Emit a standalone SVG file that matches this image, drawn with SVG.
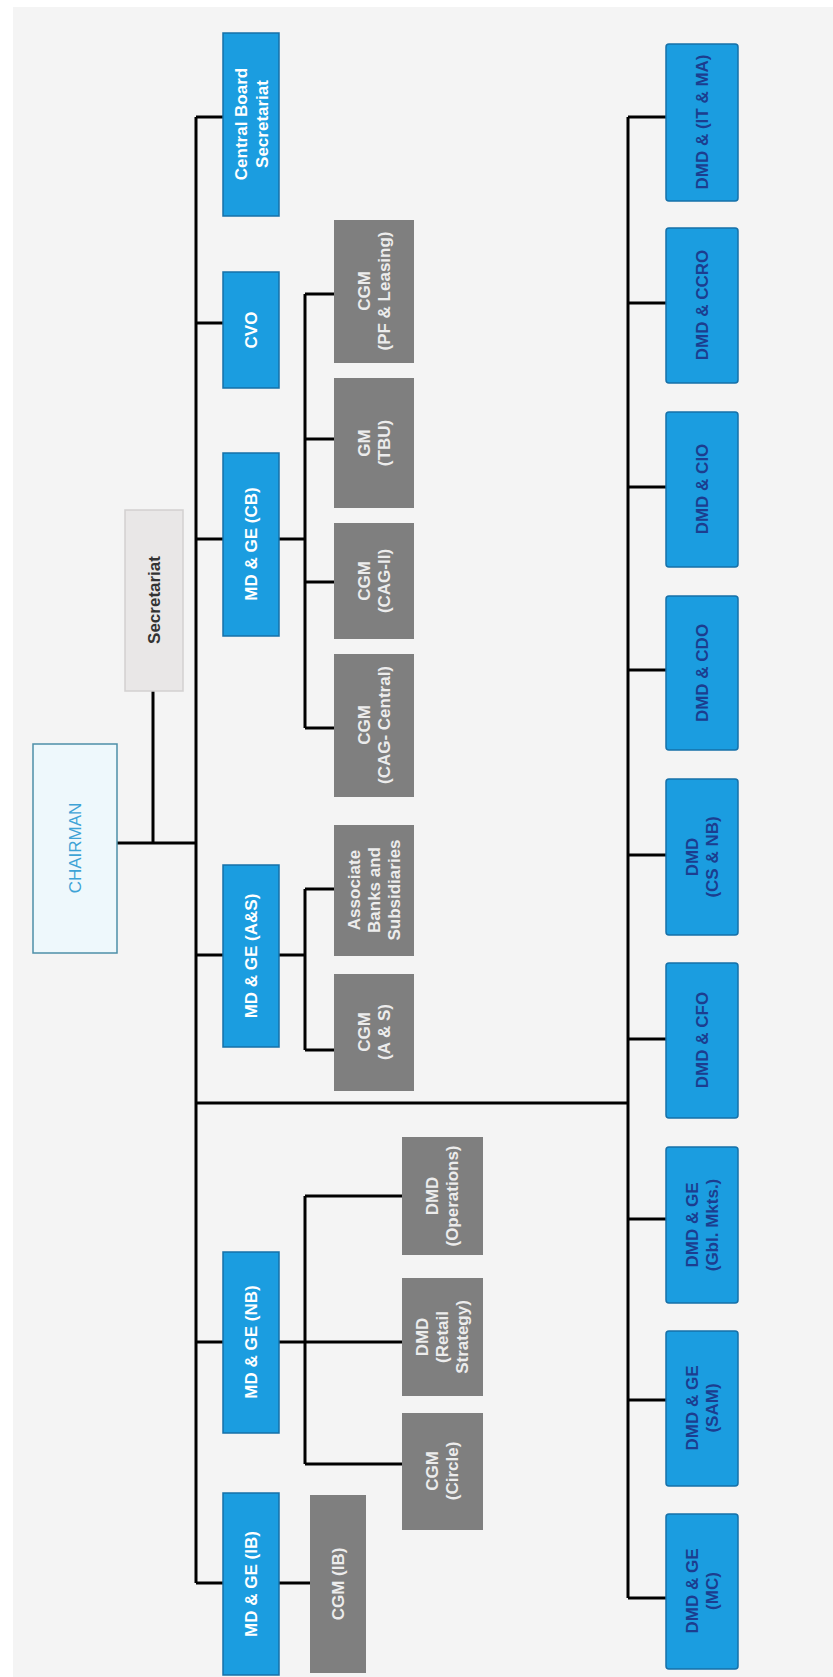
<svg xmlns="http://www.w3.org/2000/svg" width="833" height="1677" viewBox="0 0 833 1677">
<style>
.bg{fill:#f4f4f4}
.blue{fill:#1b9de0;stroke:#1670a8;stroke-width:1.5}
.gray{fill:#7f7f7f}
.sec{fill:#e9e7e7;stroke:#d2d0d0;stroke-width:1.5}
.chair{fill:#eef8fc;stroke:#4d8fa8;stroke-width:1.5}
text{font-family:"Liberation Sans",Arial,sans-serif;font-weight:bold;text-anchor:middle}
.tw{fill:#ffffff;font-size:17px}
.tn{fill:#1c3d8f;font-size:17px}
.tg{fill:#ececec;font-size:17px}
.ts{fill:#333333;font-size:17px}
.tc{fill:#3ea3d6;font-size:17px;font-weight:normal}
.ln{stroke:#000;stroke-width:3;fill:none}
</style>
<rect x="0" y="0" width="833" height="1677" fill="#ffffff"/>
<rect class="bg" x="13" y="7" width="820" height="1670"/>
<g id="connectors">
<path class="ln" d="M196 117V1583"/>
<path class="ln" d="M196 117H223M196 323H223M196 539H223M196 955H223M196 1342H223M196 1583H223"/>
<path class="ln" d="M117 843H196M153 691V843"/>
<path class="ln" d="M196 1103H628"/>
<path class="ln" d="M628 117V1598"/>
<path class="ln" d="M628 117H666M628 303H666M628 487H666M628 670H666M628 855H666M628 1039H666M628 1219H666M628 1400H666M628 1598H666"/>
<path class="ln" d="M279 539H305M305 294V728M305 294H334M305 439H334M305 582H334M305 728H334"/>
<path class="ln" d="M279 955H305M305 889V1050M305 889H334M305 1050H334"/>
<path class="ln" d="M279 1342H402M305 1196V1464M305 1196H402M305 1464H402"/>
<path class="ln" d="M279 1583H310"/>
</g>
<g id="chairman"><rect class="chair" x="33" y="744" width="84" height="209"/><text class="tc" transform="translate(75,848) rotate(-90)" dy="6">CHAIRMAN</text></g>
<g id="secretariat"><rect class="sec" x="125" y="510" width="58" height="181"/><text class="ts" transform="translate(154,600) rotate(-90)" dy="6">Secretariat</text></g>
<g id="cbs"><rect class="blue" x="223" y="33" width="56" height="183"/><text class="tw" transform="translate(251,124) rotate(-90)"><tspan x="0" dy="-4.5">Central Board</tspan><tspan x="0" dy="21">Secretariat</tspan></text></g>
<g id="cvo"><rect class="blue" x="223" y="272" width="56" height="116"/><text class="tw" transform="translate(251,330) rotate(-90)" dy="6">CVO</text></g>
<g id="mdge-cb"><rect class="blue" x="223" y="453" width="56" height="183"/><text class="tw" transform="translate(251,544) rotate(-90)" dy="6">MD &amp; GE (CB)</text></g>
<g id="mdge-as"><rect class="blue" x="223" y="865" width="56" height="182"/><text class="tw" transform="translate(251,956) rotate(-90)" dy="6">MD &amp; GE (A&amp;S)</text></g>
<g id="mdge-nb"><rect class="blue" x="223" y="1252" width="56" height="181"/><text class="tw" transform="translate(251,1342) rotate(-90)" dy="6">MD &amp; GE (NB)</text></g>
<g id="mdge-ib"><rect class="blue" x="223" y="1493" width="56" height="182"/><text class="tw" transform="translate(251,1584) rotate(-90)" dy="6">MD &amp; GE (IB)</text></g>
<g id="cgm-pf"><rect class="gray" x="334" y="220" width="80" height="143"/><text class="tg" transform="translate(374,291) rotate(-90)"><tspan x="0" dy="-4">CGM</tspan><tspan x="0" dy="20">(PF &amp; Leasing)</tspan></text></g>
<g id="gm-tbu"><rect class="gray" x="334" y="378" width="80" height="130"/><text class="tg" transform="translate(374,443) rotate(-90)"><tspan x="0" dy="-4">GM</tspan><tspan x="0" dy="20">(TBU)</tspan></text></g>
<g id="cgm-cag2"><rect class="gray" x="334" y="523" width="80" height="116"/><text class="tg" transform="translate(374,581) rotate(-90)"><tspan x="0" dy="-4">CGM</tspan><tspan x="0" dy="20">(CAG-II)</tspan></text></g>
<g id="cgm-cagc"><rect class="gray" x="334" y="654" width="80" height="143"/><text class="tg" transform="translate(374,725) rotate(-90)"><tspan x="0" dy="-4">CGM</tspan><tspan x="0" dy="20">(CAG- Central)</tspan></text></g>
<g id="assoc"><rect class="gray" x="334" y="825" width="80" height="131"/><text class="tg" transform="translate(374,890) rotate(-90)"><tspan x="0" dy="-14">Associate</tspan><tspan x="0" dy="20">Banks and</tspan><tspan x="0" dy="20">Subsidiaries</tspan></text></g>
<g id="cgm-as"><rect class="gray" x="334" y="974" width="80" height="117"/><text class="tg" transform="translate(374,1032) rotate(-90)"><tspan x="0" dy="-4">CGM</tspan><tspan x="0" dy="20">(A &amp; S)</tspan></text></g>
<g id="dmd-ops"><rect class="gray" x="402" y="1137" width="81" height="118"/><text class="tg" transform="translate(442,1196) rotate(-90)"><tspan x="0" dy="-4">DMD</tspan><tspan x="0" dy="20">(Operations)</tspan></text></g>
<g id="dmd-retail"><rect class="gray" x="402" y="1278" width="81" height="118"/><text class="tg" transform="translate(442,1337) rotate(-90)"><tspan x="0" dy="-14">DMD</tspan><tspan x="0" dy="20">(Retail</tspan><tspan x="0" dy="20">Strategy)</tspan></text></g>
<g id="cgm-circle"><rect class="gray" x="402" y="1413" width="81" height="117"/><text class="tg" transform="translate(442,1471) rotate(-90)"><tspan x="0" dy="-4">CGM</tspan><tspan x="0" dy="20">(Circle)</tspan></text></g>
<g id="cgm-ib"><rect class="gray" x="310" y="1495" width="56" height="178"/><text class="tg" transform="translate(338,1584) rotate(-90)" dy="6">CGM (IB)</text></g>
<g id="dmd-it"><rect class="blue" x="666" y="44" width="72" height="157" rx="3"/><text class="tn" transform="translate(702,122) rotate(-90)" dy="6">DMD &amp; (IT &amp; MA)</text></g>
<g id="dmd-ccro"><rect class="blue" x="666" y="228" width="72" height="155" rx="3"/><text class="tn" transform="translate(702,305) rotate(-90)" dy="6">DMD &amp; CCRO</text></g>
<g id="dmd-cio"><rect class="blue" x="666" y="412" width="72" height="155" rx="3"/><text class="tn" transform="translate(702,489) rotate(-90)" dy="6">DMD &amp; CIO</text></g>
<g id="dmd-cdo"><rect class="blue" x="666" y="596" width="72" height="154" rx="3"/><text class="tn" transform="translate(702,673) rotate(-90)" dy="6">DMD &amp; CDO</text></g>
<g id="dmd-csnb"><rect class="blue" x="666" y="779" width="72" height="156" rx="3"/><text class="tn" transform="translate(702,857) rotate(-90)"><tspan x="0" dy="-4">DMD</tspan><tspan x="0" dy="20">(CS &amp; NB)</tspan></text></g>
<g id="dmd-cfo"><rect class="blue" x="666" y="963" width="72" height="155" rx="3"/><text class="tn" transform="translate(702,1040) rotate(-90)" dy="6">DMD &amp; CFO</text></g>
<g id="dmd-gbl"><rect class="blue" x="666" y="1147" width="72" height="156" rx="3"/><text class="tn" transform="translate(702,1225) rotate(-90)"><tspan x="0" dy="-4">DMD &amp; GE</tspan><tspan x="0" dy="20">(Gbl. Mkts.)</tspan></text></g>
<g id="dmd-sam"><rect class="blue" x="666" y="1331" width="72" height="155" rx="3"/><text class="tn" transform="translate(702,1408) rotate(-90)"><tspan x="0" dy="-4">DMD &amp; GE</tspan><tspan x="0" dy="20">(SAM)</tspan></text></g>
<g id="dmd-mc"><rect class="blue" x="666" y="1514" width="72" height="155" rx="3"/><text class="tn" transform="translate(702,1591) rotate(-90)"><tspan x="0" dy="-4">DMD &amp; GE</tspan><tspan x="0" dy="20">(MC)</tspan></text></g>
</svg>
